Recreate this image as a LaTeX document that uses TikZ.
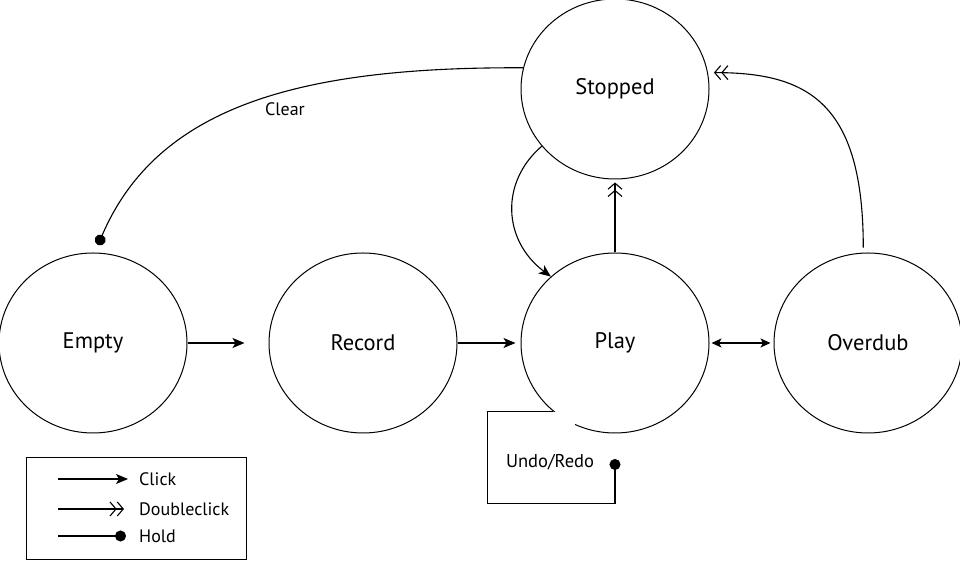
\documentclass[tikz,border=0pt]{standalone}
\usepackage{fontspec}
\setmainfont{PT Sans}
\usepackage{tikz}
\usetikzlibrary{arrows.meta, positioning, shapes.geometric}

\begin{document}
\begin{tikzpicture}[
x=1pt, y=1pt,
node distance=63pt,
state/.style={ellipse, draw=black, line width=1pt, fill=white, minimum width=188pt, minimum height=180pt, inner sep=0pt, font=\fontsize{22.5}{26}\selectfont},
lbl/.style={inner sep=0pt, font=\fontsize{18}{21}\selectfont},
click/.style={line width=1.1pt, -{Stealth[length=12pt, width=10pt, inset=3pt]}},
dclick/.style={line width=1.1pt, -{Straight Barb[length=6pt, width=14pt, line width=1.1pt] Straight Barb[length=6pt, width=14pt, line width=1.1pt]}},
hold/.style={line width=1.1pt, -{Circle[length=11pt]}},
both/.style={line width=1.1pt, {Stealth[length=10pt, width=9pt, inset=2.5pt]}-{Stealth[length=10pt, width=9pt, inset=2.5pt]}}
]

\fill[white] (0,0) rectangle (960,561);
\useasboundingbox (0,0) rectangle (960,561);

% states
\node[state] (empty) at (93,218) {Empty};
\node[state, right=81pt of empty] (record) {Record};
\node[state, right=63pt of record] (play) {Play};
\node[state, right=64pt of play] (overdub) {Overdub};
\node[state, above=73pt of play] (stopped) {Stopped};

% transitions
\draw[click, shorten >=24pt] (empty.east) -- (record.west);
\draw[click, shorten >=5pt] (record.east) -- (play.west);
\draw[both, shorten <=2pt, shorten >=3pt] (play.east) -- (overdub.west);
\draw[dclick, shorten >=3pt] (play.north) -- (stopped.south);
\draw[click] (stopped.218) .. controls +(-42,-36) and +(-48,36) .. (play.134);
\draw[dclick, shorten <=5pt, shorten >=6pt] (overdub.93) .. controls +(0,150) and +(100,0) .. (stopped.10);

\coordinate (clr) at (98,316);
\draw[hold] (stopped.167) .. controls +(-221,1) and +(60,140) .. (clr);
\node[lbl] (clear) at (285,452) {Clear};

% undo loop
\fill[white] (488,59) rectangle (575,149);
\coordinate (undoend) at (615,102);
\draw[hold] (play.228) -| ++(-66,-92) -| (undoend);
\node[lbl, font=\fontsize{18.5}{21}\selectfont] (undo) at (550,99) {Undo/Redo};

% legend
\node[draw, line width=1pt, minimum width=220pt, minimum height=102pt, anchor=south west] (legend) at (26,1) {};
\node[lbl, anchor=west] (lclick) at (139,82) {Click};
\node[lbl, anchor=west] (ldclick) at (139,52) {Doubleclick};
\node[lbl, anchor=west] (lhold) at (139,25) {Hold};
\draw[click] ([xshift=-81pt]lclick.west) -- ([xshift=-11pt]lclick.west);
\draw[dclick] ([xshift=-81pt]ldclick.west) -- ([xshift=-15pt]ldclick.west);
\draw[hold] ([xshift=-81pt]lhold.west) -- ([xshift=-13pt]lhold.west);

\end{tikzpicture}
\end{document}
